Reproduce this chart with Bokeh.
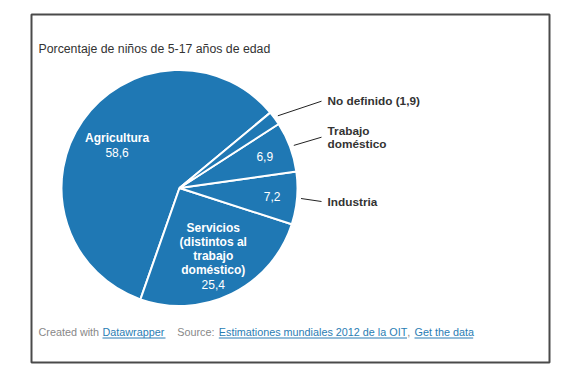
import math
from bokeh.plotting import figure
from bokeh.models import Range1d
from bokeh.core.properties import value
from bokeh.embed import file_html
from bokeh.resources import INLINE

# ---- data ----
categories = ["Agricultura", "Servicios (distintos al trabajo doméstico)", "Industria",
              "Trabajo doméstico", "No definido"]
values = [58.6, 25.4, 7.2, 6.9, 1.9]
value_labels = ["58,6", "25,4", "7,2", "6,9", "1,9"]
title_text = "Porcentaje de niños de 5-17 años de edad"

FONT = "Liberation Sans"
BLUE = "#1f78b4"
DARK = "#333333"

W, H = 565, 364
p = figure(width=W, height=H, output_backend="svg", toolbar_location=None,
           x_range=Range1d(0, W), y_range=Range1d(0, H), min_border=0)
p.axis.visible = False
p.grid.visible = False
p.outline_line_color = None
p.background_fill_color = "white"
p.border_fill_color = "white"


def Y(y):
    return H - y


# frame
p.quad(left=31, right=549, bottom=Y(362), top=Y(14), fill_color=None,
       line_color="#4a4a4a", line_width=2)

# pie
cx, cy, R = 179, Y(187.5), 118
start0 = math.radians(39.7)
total = sum(values)
starts, ends, mids = [], [], []
a = start0
for v in values:
    da = 2 * math.pi * v / total
    starts.append(a)
    ends.append(a + da)
    mids.append(a + da / 2)
    a += da
p.wedge(x=[cx] * len(values), y=[cy] * len(values), radius=R,
        start_angle=starts, end_angle=ends, fill_color=BLUE,
        line_color="white", line_width=2)


def txt(x, y, s, bold=False, color="white", align="center", size="12px"):
    p.text(x=[x], y=[Y(y)], text=[s], text_font=value(FONT), text_font_size=size,
           text_color=color, text_align=align, text_baseline="middle",
           text_font_style="bold" if bold else "normal")


# title
txt(38, 48.5, title_text, color=DARK, align="left", size="12.3px")


def polar(ang, r):
    return cx + r * math.cos(ang), H - (cy + r * math.sin(ang))


# Agricultura
x, y = polar(mids[0], 76)
txt(x, y - 7, categories[0], bold=True)
txt(x, y + 8, value_labels[0])
# Servicios
x, y = polar(mids[1], 76)
lines = ["Servicios", "(distintos al", "trabajo", "doméstico)"]
for i, s in enumerate(lines):
    txt(x, y - 28 + i * 14, s, bold=True)
txt(x, y + 28, value_labels[1])
# small slices values inside
x, y = polar(mids[2], 93)
txt(x, y, value_labels[2])
x, y = polar(mids[3], 91)
txt(x, y, value_labels[3])

# outside labels with leader lines
label_x = 327
out = [(4, 100.7, ["No definido (" + value_labels[4] + ")"]),
       (3, 136.7, ["Trabajo", "doméstico"]),
       (2, 201, ["Industria"])]
for idx, ly, texts in out:
    sx, sy = polar(mids[idx], 122)
    p.line(x=[sx, 321], y=[Y(sy), Y(ly)], line_color="#222222", line_width=1)
    n = len(texts)
    for i, s in enumerate(texts):
        txt(label_x, ly + (i - (n - 1) / 2) * 13.4, s, bold=True, color=DARK,
            align="left", size="11.8px")

# footer
GRAY = "#888888"
LINK = "#2a7db4"
fy = 331.7
FS = "10.8px"
txt(38, fy, "Created with", color=GRAY, align="left", size=FS)
txt(102, fy, "Datawrapper", color=LINK, align="left", size=FS)
txt(176.7, fy, "Source:", color=GRAY, align="left", size=FS)
txt(218.3, fy, "Estimationes mundiales 2012 de la OIT", color=LINK, align="left", size=FS)
txt(406.7, fy, ",", color=GRAY, align="left", size=FS)
txt(414, fy, "Get the data", color=LINK, align="left", size=FS)
for x0, x1 in [(102, 165), (218.3, 406.5), (414, 472.7)]:
    p.line(x=[x0, x1], y=[Y(337.5), Y(337.5)], line_color=LINK, line_width=1)

open("out.html", "w").write(file_html(p, INLINE))
